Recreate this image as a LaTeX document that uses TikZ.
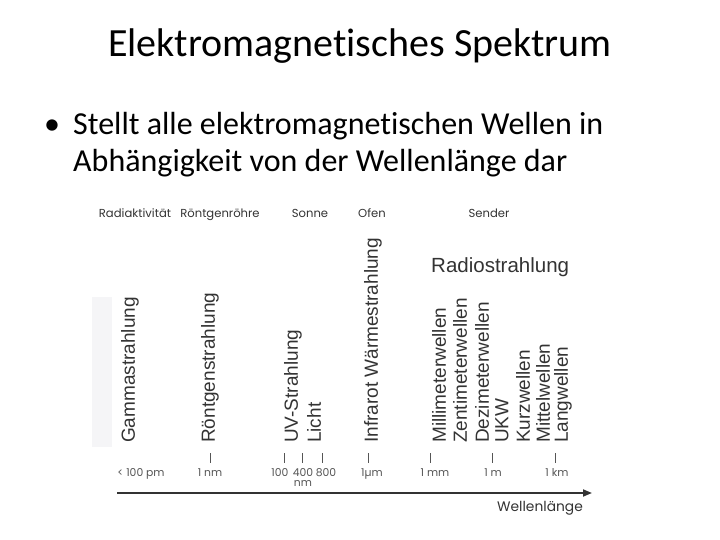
\documentclass[tikz,border=0pt]{standalone}
\usepackage{fontspec}
\setmainfont{Carlito}[Ligatures=NoCommon]
\newfontfamily\arialfont{Liberation Sans}
\newfontfamily\gothicfont{Poppins}
\usetikzlibrary{arrows.meta}
\definecolor{inkgray}{HTML}{333333}
\definecolor{tickgray}{HTML}{555555}
\definecolor{boxgray}{HTML}{F5F5F7}
\begin{document}
\begin{tikzpicture}[x=1pt,y=-1pt,
  band/.style={rotate=90,anchor=west,inner sep=0pt,text=inkgray,font=\arialfont\fontsize{19}{19}\selectfont},
  source/.style={anchor=base,inner sep=0pt,text=inkgray,font=\gothicfont\fontsize{11.6}{12}\selectfont},
  scalelabel/.style={anchor=base,inner sep=0pt,text=tickgray,font=\gothicfont\fontsize{10.8}{11}\selectfont},
  tick/.style={draw=tickgray,line width=0.8pt}]
\useasboundingbox (0,0) rectangle (720,540);

% slide text
\node[anchor=base,inner sep=0pt,font=\fontsize{40}{48}\selectfont] (title) at (360,57) {Elektromagnetisches Spektrum};
\node[anchor=base,inner sep=0pt,font=\fontsize{32}{38}\selectfont] (bullet) at (52,135) {•};
\node[anchor=base west,inner sep=0pt,font=\fontsize{32}{38}\selectfont] (line1) at (73,135) {Stellt alle elektromagnetischen Wellen in};
\node[anchor=base west,inner sep=0pt,font=\fontsize{32}{38}\selectfont] (line2) at (73,172) {Abhängigkeit von der Wellenlänge dar};

% sources
\node[source] (radio) at (135,218) {Radiaktivität};
\node[source] (tube) at (220,218) {Röntgenröhre};
\node[source] (sun) at (310,218) {Sonne};
\node[source] (oven) at (372,218) {Ofen};
\node[source] (sender) at (489,218) {Sender};

% bands
\fill[boxgray] (92,297) rectangle (112,447);
\node[band] (gamma) at (130,443) {Gammastrahlung};
\node[band] (xray) at (210,443) {Röntgenstrahlung};
\node[band] (uv) at (293,443) {UV-Strahlung};
\node[band] (light) at (314,443) {Licht};
\node[band] (infra) at (373,443) {Infrarot Wärmestrahlung};
\node[anchor=west,inner sep=0pt,text=inkgray,font=\arialfont\fontsize{20.5}{20.5}\selectfont] (radiowaves) at (431,267) {Radiostrahlung};
\node[band] (mm) at (439,443) {Millimeterwellen};
\node[band] (cm) at (460,443) {Zentimeterwellen};
\node[band] (dm) at (482,443) {Dezimeterwellen};
\node[band] (ukw) at (502,443) {UKW};
\node[band] (kw) at (523,443) {Kurzwellen};
\node[band] (mw) at (543,443) {Mittelwellen};
\node[band] (lw) at (563,443) {Langwellen};

% scale
\draw[tick] (210,453) -- (210,463);
\draw[tick] (284,453) -- (284,463);
\draw[tick] (302,453) -- (302,463);
\draw[tick] (322,453) -- (322,463);
\draw[tick] (368,453) -- (368,463);
\draw[tick] (430,453) -- (430,463);
\draw[tick] (492,453) -- (492,463);
\draw[tick] (555,453) -- (555,463);
\node[scalelabel] (lpm) at (141,476) {< 100 pm};
\node[scalelabel] (lnm) at (210,476) {1 nm};
\node[scalelabel] (l100) at (280,476) {100};
\node[scalelabel] (l400) at (303,476) {400};
\node[scalelabel] (lunit) at (303,486) {nm};
\node[scalelabel] (l800) at (326,476) {800};
\node[scalelabel] (lum) at (372,476) {1µm};
\node[scalelabel] (lmm) at (435,476) {1 mm};
\node[scalelabel] (lm) at (493,476) {1 m};
\node[scalelabel] (lkm) at (557,476) {1 km};

\coordinate (axisstart) at (117,493);
\coordinate (axisend) at (592,493);
\draw[-{Triangle[length=9pt,width=7pt]},line width=1.8pt,inkgray] (axisstart) -- (axisend);
\node[anchor=base,inner sep=0pt,text=inkgray,font=\gothicfont\fontsize{13.8}{14}\selectfont] (wavelength) at (540,511) {Wellenlänge};
\end{tikzpicture}
\end{document}
